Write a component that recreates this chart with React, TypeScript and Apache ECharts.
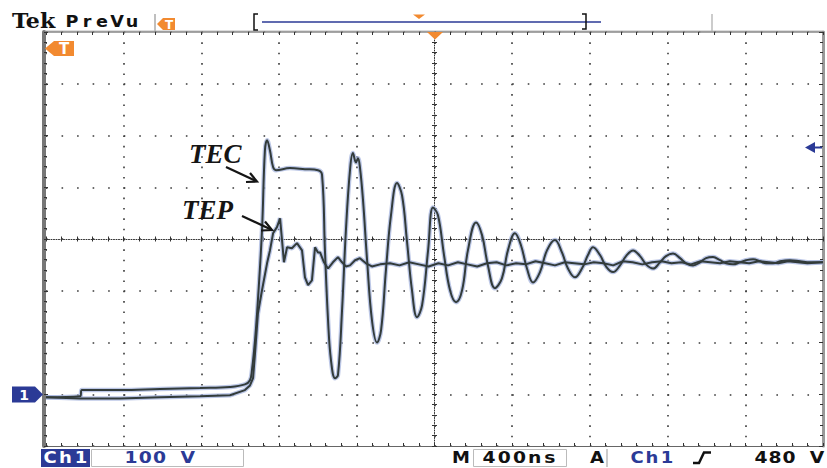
import React, { useEffect, useRef } from "react";
import * as echarts from "echarts";

const tecTime = [0,175,185,381,587,793,947,1024,1050,1060,1076,1091,1112,1127,1138,1153,1169,1184,1256,1333,1400,1421,1436,1452,1467,1488,1503,1524,1544,1565,1580,1596,1606,1616,1632,1653,1678,1704,1725,1750,1776,1807,1833,1858,1884,1910,1936,1967,1992,2018,2049,2080,2111,2142,2172,2214,2245,2275,2311,2347,2378,2414,2445,2476,2507,2543,2579,2620,2656,2687,2723,2759,2790,2816,2852,2883,2919,2955,2986,3022,3058,3089,3125,3161,3192,3228,3264,3295,3331,3367,3398,3434,3470,3501,3537,3573,3604,3640,3676,3707,3743,3779,3830,3882,3933,4000];
const tecVolt = [-6,-4,8,8,10,12,14,19,27,46,104,182,317,471,491,471,439,433,437,435,433,424,278,143,66,31,37,162,317,433,466,448,456,439,375,259,143,100,124,240,346,408,384,297,201,149,172,278,361,346,269,201,178,201,278,332,307,249,205,224,278,311,288,243,216,236,278,298,274,243,226,243,269,284,269,247,236,249,267,278,267,251,243,255,267,272,263,253,249,255,263,265,259,253,251,255,259,261,257,253,253,257,259,257,255,255];

const tepTime = [0,175,381,587,793,947,1024,1050,1066,1076,1091,1112,1138,1153,1169,1189,1205,1215,1225,1241,1266,1292,1318,1333,1349,1369,1385,1400,1411,1431,1452,1477,1503,1524,1544,1565,1591,1616,1647,1678,1720,1771,1820,1870,1920,1970,2020,2070,2120,2170,2220,2270,2320,2370,2420,2470,2520,2570,2620,2670,2720,2770,2820,2870,2920,2970,3020,3070,3120,3170,3220,3270,3320,3370,3420,3470,3520,3570,3620,3670,3720,3770,3820,3870,3920,4000];
const tepVolt = [-6,-8,-8,-6,-4,-2,8,17,31,79,156,201,253,278,311,323,340,298,255,284,282,292,278,226,211,220,284,274,274,255,243,255,265,255,247,249,259,263,253,247,251,253,249,255,251,247,253,249,255,251,247,253,255,249,253,251,257,253,249,255,253,251,255,253,249,257,255,251,255,257,253,255,251,257,255,253,257,255,253,257,255,253,257,255,253,255];

const X_MIN = 0, X_MAX = 4000, X_DIV = 400;
const Y_MIN = -100, Y_MAX = 700, Y_DIV = 100;

const BRAND = "Tek";
const MODE = "PreVu";
const CH_NAME = "Ch1";
const CH_SCALE = "100 V";
const TIME_SCALE = "400ns";
const TRIG_SRC = "Ch1";
const TRIG_LEVEL = "480 V";
const LABEL_TEC = "TEC";
const LABEL_TEP = "TEP";

const DARK = "#323b3a";
const HALO = "rgba(165,180,222,0.75)";
const ORANGE = "#f28a30";
const BLUE = "#2b3a96";
const STATUS_FONT = "DejaVu Sans";

function spaced(str: string, cx0: number, adv: number, cy: number, style: any, scaleX = 1) {
  return str.split("").map((ch, i) => ({
    type: "text",
    x: cx0 + i * adv,
    y: cy,
    scaleX,
    style: { text: ch, textAlign: "center", textVerticalAlign: "middle", ...style },
  }));
}

export default function App() {
  const ref = useRef<HTMLDivElement>(null);
  useEffect(() => {
    if (!ref.current) return;
    const chart = echarts.init(ref.current, undefined, { renderer: "svg" });
    const tec = tecTime.map((t, i) => [t, tecVolt[i]]);
    const tep = tepTime.map((t, i) => [t, tepVolt[i]]);

    const gridW = 777, gridH = 414;
    const dotV = gridH / 40; // 1/5 div vertically
    const dotH = gridW / 50; // 1/5 div horizontally

    const hidden = { show: false };
    const baseX = { type: "value", min: X_MIN, max: X_MAX, axisLabel: hidden, splitLine: { show: false } };
    const baseY = { type: "value", min: Y_MIN, max: Y_MAX, axisLabel: hidden, splitLine: { show: false } };
    const tickStyle = { color: "#333", width: 1 };

    const stTxt = { fontFamily: STATUS_FONT, fontWeight: "bold", fontSize: 15 };

    const graphic: any[] = [
      // header
      { type: "text", x: 12, y: 21, scaleX: 1.05, style: { text: BRAND, fontFamily: "DejaVu Serif", fontWeight: "bold", fontSize: 21, fill: "#111", textVerticalAlign: "middle" } },
      ...spaced(MODE, 72, 15, 21, { fontFamily: STATUS_FONT, fontWeight: "bold", fontSize: 16, fill: "#111" }, 1.1),
      { type: "line", shape: { x1: 155, y1: 14, x2: 155, y2: 31 }, style: { stroke: "#aaa", lineWidth: 1.5 } },
      { type: "line", shape: { x1: 712, y1: 14, x2: 712, y2: 31 }, style: { stroke: "#bbb", lineWidth: 1.5 } },
      { type: "line", shape: { x1: 43, y1: 31, x2: 823, y2: 31 }, style: { stroke: "#bbb", lineWidth: 1 } },
      { type: "polygon", shape: { points: [[157, 24], [163, 18], [175, 18], [175, 30], [163, 30]] }, style: { fill: ORANGE } },
      { type: "text", x: 169, y: 24.5, style: { text: "T", fill: "#fff", fontWeight: "bold", fontSize: 12, fontFamily: STATUS_FONT, textAlign: "center", textVerticalAlign: "middle" } },
      { type: "polyline", shape: { points: [[258, 14], [254, 14], [254, 30], [258, 30]] }, style: { stroke: "#111", lineWidth: 1.5, fill: null } },
      { type: "line", shape: { x1: 262, y1: 22, x2: 601, y2: 22 }, style: { stroke: BLUE, lineWidth: 1.5 } },
      { type: "polyline", shape: { points: [[582, 14], [586, 14], [586, 29], [582, 29]] }, style: { stroke: "#111", lineWidth: 1.5, fill: null } },
      { type: "polygon", shape: { points: [[413, 14.5], [425, 14.5], [419, 19]] }, style: { fill: ORANGE } },
      // in-plot markers
      { type: "polygon", shape: { points: [[427, 32], [443, 32], [435, 39.5]] }, style: { fill: ORANGE }, z: 20 },
      { type: "polygon", shape: { points: [[45, 48.5], [54, 41], [74, 41], [74, 56], [54, 56]] }, style: { fill: ORANGE }, z: 20 },
      { type: "text", x: 64, y: 49, z: 21, style: { text: "T", fill: "#fff", fontWeight: "bold", fontSize: 15, fontFamily: STATUS_FONT, textAlign: "center", textVerticalAlign: "middle" } },
      { type: "polygon", shape: { points: [[12, 386.5], [35, 386.5], [43, 394.5], [35, 402.5], [12, 402.5]] }, style: { fill: BLUE }, z: 20 },
      { type: "text", x: 24, y: 395, z: 21, style: { text: "1", fill: "#fff", fontWeight: "bold", fontSize: 14, fontFamily: STATUS_FONT, textAlign: "center", textVerticalAlign: "middle" } },
      { type: "polygon", shape: { points: [[805, 147.5], [815, 142], [815, 153]] }, style: { fill: BLUE }, z: 20 },
      { type: "line", shape: { x1: 814, y1: 147.5, x2: 822, y2: 147.5 }, style: { stroke: BLUE, lineWidth: 2 }, z: 20 },
      // annotations
      { type: "text", x: 189, y: 154, z: 20, style: { text: LABEL_TEC, fontFamily: "Liberation Serif", fontStyle: "italic", fontWeight: "bold", fontSize: 27, fill: "#151515", textVerticalAlign: "middle" } },
      { type: "text", x: 182, y: 210, z: 20, style: { text: LABEL_TEP, fontFamily: "Liberation Serif", fontStyle: "italic", fontWeight: "bold", fontSize: 27, fill: "#151515", textVerticalAlign: "middle" } },
      { type: "line", shape: { x1: 226, y1: 167, x2: 256, y2: 181 }, style: { stroke: "#151515", lineWidth: 2.2 }, z: 20 },
      { type: "polyline", shape: { points: [[250, 173], [257, 181.5], [246, 182]] }, style: { stroke: "#151515", lineWidth: 2.2, fill: null }, z: 20 },
      { type: "line", shape: { x1: 242, y1: 216, x2: 271, y2: 229.5 }, style: { stroke: "#151515", lineWidth: 2.2 }, z: 20 },
      { type: "polyline", shape: { points: [[265, 221.5], [272, 230], [261, 230.5]] }, style: { stroke: "#151515", lineWidth: 2.2, fill: null }, z: 20 },
      // status bar
      { type: "rect", shape: { x: 41, y: 449, width: 49, height: 18 }, style: { fill: BLUE } },
      ...spaced(CH_NAME, 50, 15.5, 458, { ...stTxt, fill: "#fff" }, 1.2),
      { type: "rect", shape: { x: 91.5, y: 449.5, width: 152, height: 17 }, style: { fill: "#fff", stroke: "#bbb", lineWidth: 1 } },
      ...spaced(CH_SCALE, 131, 14.2, 458, { ...stTxt, fill: BLUE }, 1.25),
      { type: "text", x: 461, y: 458, scaleX: 1.2, style: { ...stTxt, text: "M", fill: "#111", textAlign: "center", textVerticalAlign: "middle" } },
      { type: "rect", shape: { x: 473.5, y: 449.5, width: 93, height: 17 }, style: { fill: "#fff", stroke: "#bbb", lineWidth: 1 } },
      ...spaced(TIME_SCALE, 489, 15.2, 458, { ...stTxt, fill: "#111" }, 1.25),
      { type: "text", x: 597, y: 458, scaleX: 1.2, style: { ...stTxt, text: "A", fill: "#111", textAlign: "center", textVerticalAlign: "middle" } },
      { type: "line", shape: { x1: 607, y1: 449, x2: 607, y2: 467 }, style: { stroke: "#999", lineWidth: 1 } },
      ...spaced(TRIG_SRC, 637, 15, 458, { ...stTxt, fill: BLUE }, 1.2),
      { type: "polyline", shape: { points: [[693, 463], [699, 463], [704, 452.5], [711, 452.5]] }, style: { stroke: "#111", lineWidth: 2.5, fill: null } },
      ...spaced(TRIG_LEVEL, 761, 14, 458, { ...stTxt, fill: "#111" }, 1.25),
    ];

    chart.setOption({
      animation: false,
      backgroundColor: "#fff",
      grid: { left: 46, top: 32, width: gridW, height: gridH, containLabel: false, outerBoundsMode: "none" },
      xAxis: [
        {
          ...baseX, interval: X_DIV, position: "bottom",
          axisLine: { show: true, onZero: false, lineStyle: { color: "#666", width: 1.2 } },
          axisTick: { show: true, inside: true, length: 3, lineStyle: tickStyle },
          minorTick: { show: true, splitNumber: 5, length: 3, lineStyle: tickStyle },
          splitLine: { show: true, lineStyle: { color: "#3a3a3a", width: 1.6, type: [1.6, dotV - 1.6] } },
        },
        {
          ...baseX, interval: X_DIV, position: "top",
          axisLine: { show: true, onZero: false, lineStyle: { color: "#888", width: 1.5 } },
          axisTick: { show: true, inside: true, length: 3, lineStyle: tickStyle },
          minorTick: { show: true, splitNumber: 5, length: 3, lineStyle: tickStyle },
        },
        {
          ...baseX, interval: X_DIV / 5, position: "bottom", offset: -gridH / 2,
          axisLine: { show: true, onZero: false, lineStyle: { color: "#333", width: 1, type: [1, 1.5] } },
          axisTick: { show: true, inside: false, length: 2.5, lineStyle: tickStyle },
        },
        {
          ...baseX, interval: X_DIV / 5, position: "bottom", offset: -gridH / 2,
          axisLine: { show: false, onZero: false },
          axisTick: { show: true, inside: true, length: 2.5, lineStyle: tickStyle },
        },
      ],
      yAxis: [
        {
          ...baseY, interval: Y_DIV, position: "left", offset: 2,
          axisLine: { show: true, onZero: false, lineStyle: { color: "#777", width: 4 } },
          axisTick: { show: true, inside: true, length: 4, lineStyle: tickStyle },
          minorTick: { show: true, splitNumber: 5, length: 3, lineStyle: tickStyle },
          splitLine: { show: true, lineStyle: { color: "#3a3a3a", width: 1.6, type: [1.6, dotH - 1.6] } },
        },
        {
          ...baseY, interval: Y_DIV, position: "right",
          axisLine: { show: true, onZero: false, lineStyle: { color: "#999", width: 3 } },
          axisTick: { show: true, inside: true, length: 4, lineStyle: tickStyle },
          minorTick: { show: true, splitNumber: 5, length: 3, lineStyle: tickStyle },
        },
        {
          ...baseY, interval: Y_DIV / 5, position: "left", offset: -gridW / 2,
          axisLine: { show: true, onZero: false, lineStyle: { color: "#333", width: 1, type: [1, 1.5] } },
          axisTick: { show: true, inside: false, length: 2.5, lineStyle: tickStyle },
        },
        {
          ...baseY, interval: Y_DIV / 5, position: "left", offset: -gridW / 2,
          axisLine: { show: false, onZero: false },
          axisTick: { show: true, inside: true, length: 2.5, lineStyle: tickStyle },
        },
      ],
      series: [
        { type: "line", data: tec, symbol: "none", silent: true, smooth: 0.4, lineStyle: { color: HALO, width: 4.5 }, z: 3 },
        { type: "line", data: tep, symbol: "none", silent: true, lineStyle: { color: HALO, width: 4.5 }, z: 3 },
        { type: "line", name: "TEC", data: tec, symbol: "none", smooth: 0.4, lineStyle: { color: DARK, width: 2 }, z: 4 },
        { type: "line", name: "TEP", data: tep, symbol: "none", lineStyle: { color: DARK, width: 2 }, z: 4 },
      ],
      graphic,
    } as any);
    return () => chart.dispose();
  }, []);
  return <div ref={ref} style={{ position: "fixed", left: 0, top: 0, width: 827, height: 468, background: "#fff" }} />;
}
